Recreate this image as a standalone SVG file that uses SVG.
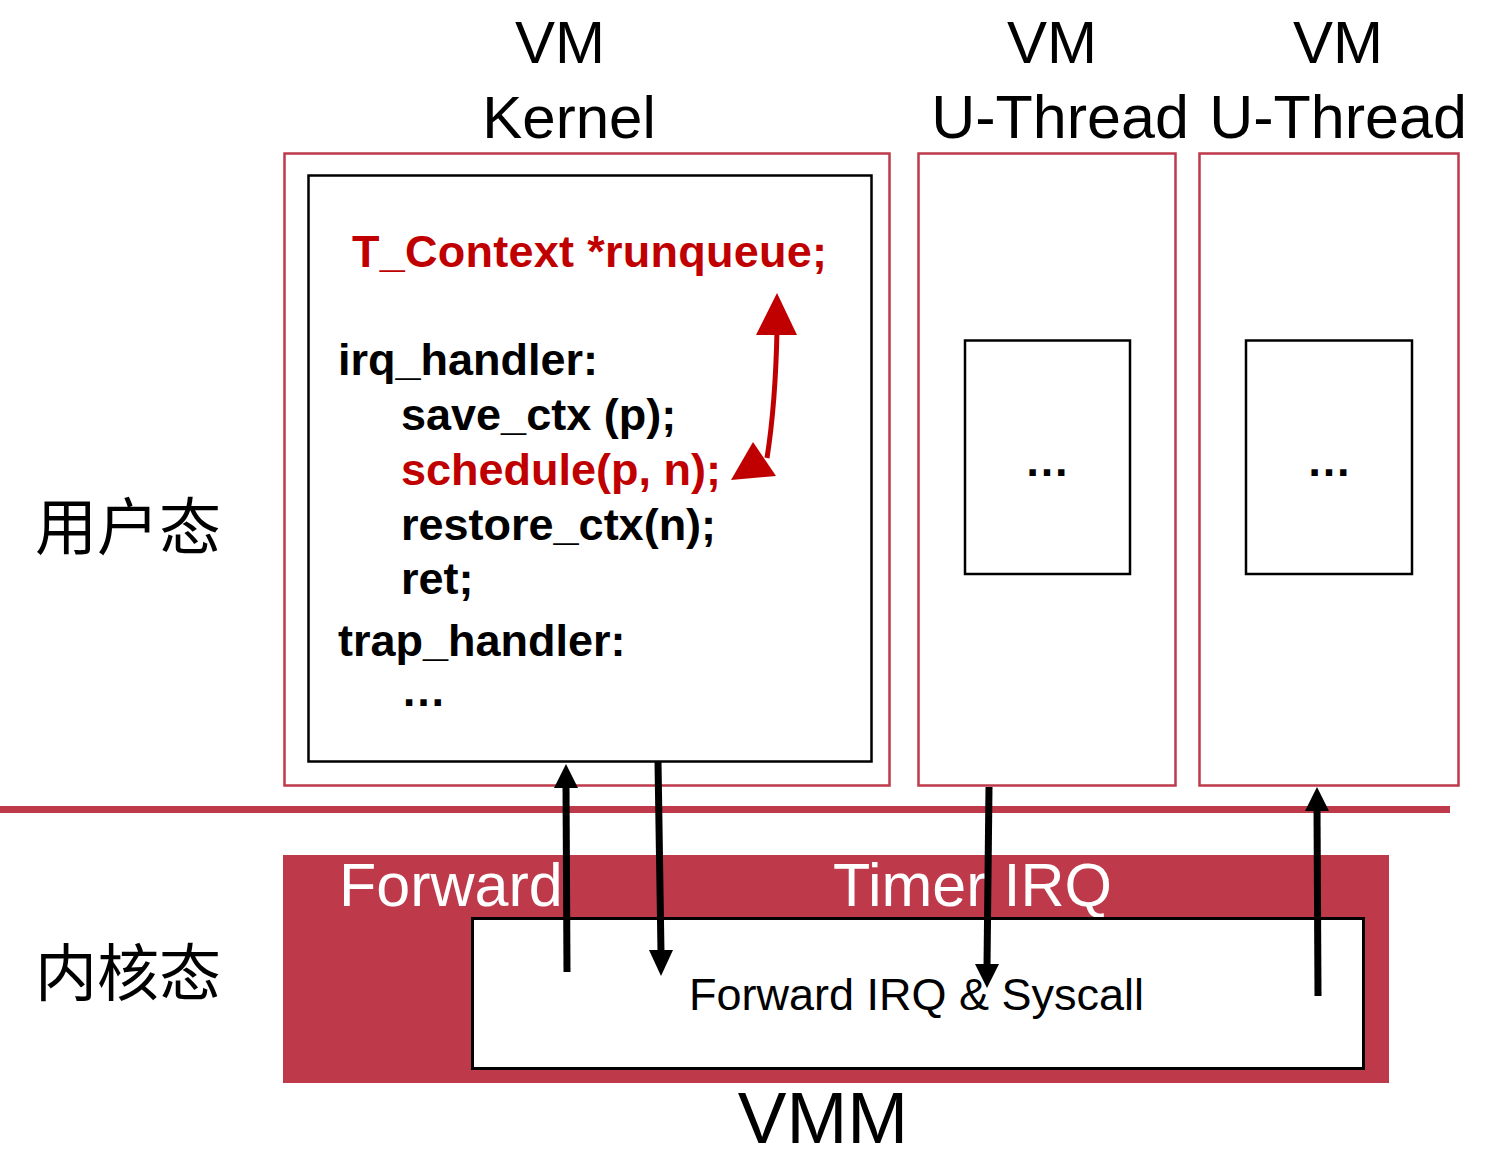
<svg xmlns="http://www.w3.org/2000/svg" width="1491" height="1161" viewBox="0 0 1491 1161">
<style>
.vm{fill:none;stroke:#be3a4b;stroke-width:2.5}
.blk{fill:#fff;stroke:#000;stroke-width:2.5}
.title{font-family:"Liberation Sans",Arial,sans-serif;font-size:60px;fill:#000;text-anchor:middle}
.code{font-family:"Liberation Sans",Arial,sans-serif;font-size:45px;font-weight:bold;fill:#000}
.red{fill:#c00000}
.cjk{font-family:"Liberation Sans","Noto Sans CJK SC",sans-serif;font-size:62px;fill:#000}
.arr{stroke:#000;stroke-width:7;fill:none}
</style>
<rect width="1491" height="1161" fill="#fff"/>

<g id="label-user"><text class="cjk" x="35" y="550">用户态</text></g>
<g id="label-kernel"><text class="cjk" x="35" y="996">内核态</text></g>

<g id="separator"><line x1="0" y1="809.5" x2="1450" y2="809.5" stroke="#be3a4b" stroke-width="7"/></g>

<g id="vm-kernel">
<text class="title" x="560" y="63">VM</text>
<text class="title" x="569" y="138">Kernel</text>
<rect class="vm" x="284.5" y="153.5" width="605" height="632"/>
<rect class="blk" x="308.5" y="175.5" width="563" height="586"/>
<text class="code red" x="352" y="267" textLength="475">T_Context *runqueue;</text>
<text class="code" x="338" y="375">irq_handler:</text>
<text class="code" x="401" y="430">save_ctx (p);</text>
<text class="code red" x="401" y="485">schedule(p, n);</text>
<text class="code" x="401" y="540">restore_ctx(n);</text>
<text class="code" x="401" y="594">ret;</text>
<text class="code" x="338" y="656">trap_handler:</text>
<text class="code" x="401" y="706">…</text>
</g>

<g id="vm-uthread-1">
<text class="title" x="1052" y="63">VM</text>
<text class="title" x="1060" y="138" style="font-size:61px">U-Thread</text>
<rect class="vm" x="918.5" y="153.5" width="257" height="632"/>
<rect class="blk" x="965" y="340.5" width="165" height="233.5" stroke-width="2"/>
<text class="code" x="1047" y="476" text-anchor="middle">…</text>
</g>

<g id="vm-uthread-2">
<text class="title" x="1338" y="63">VM</text>
<text class="title" x="1338" y="138" style="font-size:61px">U-Thread</text>
<rect class="vm" x="1199.5" y="153.5" width="259" height="632"/>
<rect class="blk" x="1246" y="340.5" width="166" height="233.5" stroke-width="2"/>
<text class="code" x="1329" y="476" text-anchor="middle">…</text>
</g>

<g id="vmm">
<rect x="283" y="855" width="1106" height="228" fill="#be3a4b"/>
<text x="339" y="906" font-family="Liberation Sans,Arial,sans-serif" font-size="61" fill="#fff">Forward</text>
<text x="833" y="906" font-family="Liberation Sans,Arial,sans-serif" font-size="61" fill="#fff">Timer IRQ</text>
<rect x="472.5" y="918.5" width="891" height="150" fill="#fff" stroke="#000" stroke-width="3"/>
<text x="689" y="1010" font-family="Liberation Sans,Arial,sans-serif" font-size="45" fill="#000">Forward IRQ &amp; Syscall</text>
<text class="title" x="823" y="1143" style="font-size:73px">VMM</text>
</g>

<g id="connectors">
<path d="M777,330 C776,380 773,420 767,458" stroke="#c00000" stroke-width="5" fill="none"/>
<polygon points="777,293 756,335 797,335" fill="#c00000"/>
<polygon points="731,480 776,476 753,442" fill="#c00000"/>
<line class="arr" x1="567" y1="972" x2="566" y2="786"/>
<polygon points="566,764 554,788 578,788" fill="#000"/>
<line class="arr" x1="658" y1="762" x2="661" y2="952"/>
<polygon points="661,976 649,950 673,950" fill="#000"/>
<line class="arr" x1="989" y1="787" x2="987" y2="966"/>
<polygon points="987,988 975,964 999,964" fill="#000"/>
<line class="arr" x1="1318" y1="996" x2="1317" y2="809"/>
<polygon points="1317,787 1305,811 1329,811" fill="#000"/>
</g>
</svg>
